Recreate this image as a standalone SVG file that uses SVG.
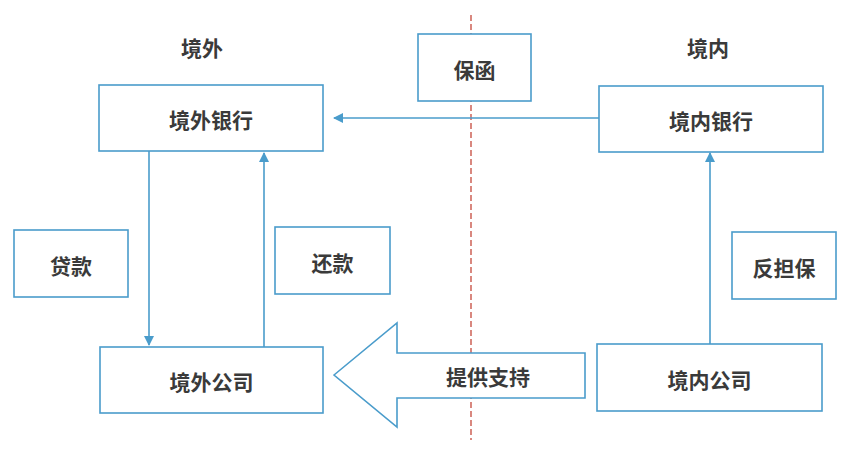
<svg xmlns="http://www.w3.org/2000/svg" width="865" height="450" viewBox="0 0 865 450">
<defs>
<style>
.box{fill:#fff;stroke:#4a9ccb;stroke-width:1.6}
.t{font-family:"Noto Sans CJK SC","Noto Sans",sans-serif;font-size:21px;font-weight:bold;fill:#3a3a3a;text-anchor:middle;dominant-baseline:central}
.ln{stroke:#4a9ccb;stroke-width:1.6;fill:none}
</style>
<marker id="ah2" viewBox="0 0 10 10" refX="9" refY="5" markerWidth="10" markerHeight="10" orient="auto" markerUnits="userSpaceOnUse">
<path d="M0,0 L10,5 L0,10 z" fill="#4a9ccb"/>
</marker>
</defs>
<rect width="865" height="450" fill="#fff"/>
<line x1="471" y1="15" x2="471" y2="440" stroke="#c0392b" stroke-width="1.2" stroke-dasharray="6,3"/>
<text class="t" x="202" y="47">境外</text>
<text class="t" x="708" y="47">境内</text>
<g id="connectors">
<line class="ln" x1="599" y1="118" x2="334" y2="118" marker-end="url(#ah2)"/>
<line class="ln" x1="149" y1="151" x2="149" y2="345" marker-end="url(#ah2)"/>
<line class="ln" x1="264" y1="347" x2="264" y2="153" marker-end="url(#ah2)"/>
<line class="ln" x1="710" y1="344" x2="710" y2="153" marker-end="url(#ah2)"/>
</g>
<g id="baohan"><rect class="box" x="418" y="34" width="113" height="67"/><text class="t" x="474.5" y="69">保函</text></g>
<g id="jingwai-bank"><rect class="box" x="99" y="85" width="224" height="66"/><text class="t" x="211" y="119">境外银行</text></g>
<g id="jingnei-bank"><rect class="box" x="599" y="86" width="224" height="66"/><text class="t" x="711" y="120">境内银行</text></g>
<g id="daikuan"><rect class="box" x="14" y="230" width="114" height="67"/><text class="t" x="71" y="265">贷款</text></g>
<g id="huankuan"><rect class="box" x="275" y="227" width="115" height="67"/><text class="t" x="332.5" y="262">还款</text></g>
<g id="fandanbao"><rect class="box" x="732" y="232" width="104" height="67"/><text class="t" x="784" y="267">反担保</text></g>
<g id="jingwai-co"><rect class="box" x="100" y="347" width="223" height="66"/><text class="t" x="211.5" y="381">境外公司</text></g>
<g id="jingnei-co"><rect class="box" x="597" y="344" width="225" height="67"/><text class="t" x="709.5" y="379">境内公司</text></g>
<g id="support"><path class="box" d="M334,375 L397,323 L397,353 L585,353 L585,398 L397,398 L397,427 Z"/><text class="t" x="488" y="376">提供支持</text></g>
</svg>
